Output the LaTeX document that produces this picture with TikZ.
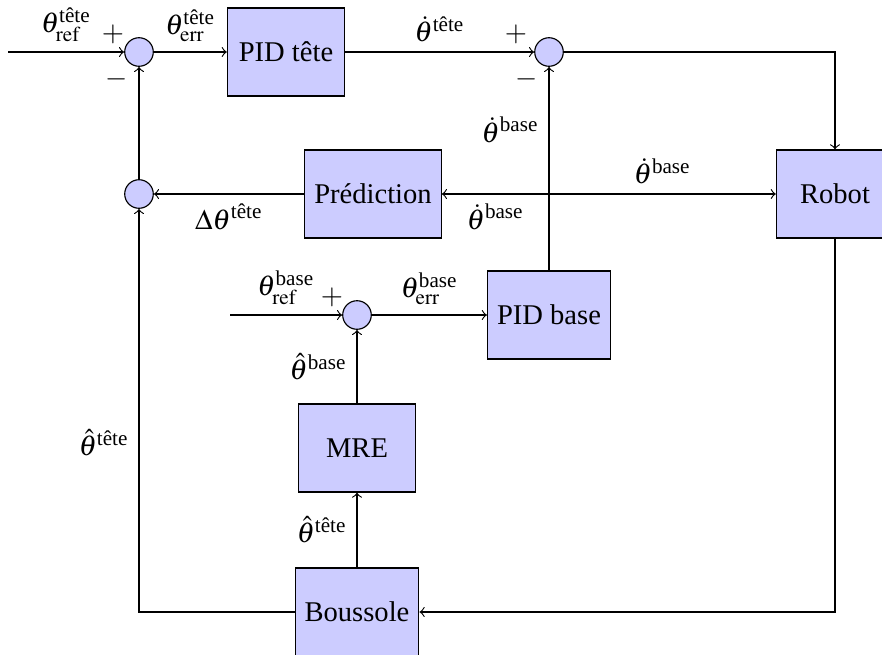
\documentclass[tikz,border=0pt]{standalone}
\usepackage{amsmath}
\usepackage{mathptmx}
\usepackage[no-math]{fontspec}
\setmainfont{Liberation Serif}
\newcommand{\tete}{\text{tête}}
\newcommand{\base}{\text{base}}
\begin{document}
\begin{tikzpicture}[x=0.35pt,y=-0.35pt,
    bloc/.style={draw, fill=blue!20, minimum width=41pt, minimum height=30.8pt},
    somme/.style={draw, circle, fill=blue!20, minimum size=10pt, inner sep=0pt}]
    \useasboundingbox (0,0) rectangle (882,654);
    % blocs
    \node [bloc] (pidtete) at (286,52) {PID tête};
    \node [bloc] (pred) at (373,194) {Prédiction};
    \node [bloc] (robot) at (835,194) {Robot};
    \node [bloc] (pidbase) at (549,315) {PID base};
    \node [bloc] (mre) at (357,448) {MRE};
    \node [bloc] (bous) at (357,612) {Boussole};
    % sommateurs
    \node [somme] (s1) at (139,52) {};
    \node [somme] (s2) at (549,52) {};
    \node [somme] (s3) at (139,194) {};
    \node [somme] (s4) at (357,315) {};
    \node (p1) at ([shift={(-26,-18)}]s1) {$+$};
    \node (m1) at ([shift={(-22,27)}]s1) {$-$};
    \node (p2) at ([shift={(-33,-18)}]s2) {$+$};
    \node (m2) at ([shift={(-22,27)}]s2) {$-$};
    \node (p4) at ([shift={(-25,-18)}]s4) {$+$};
    \coordinate (in1) at (8,52);
    \coordinate (in2) at (230,315);
    \coordinate (br) at (549,194);
    % liaisons
    \draw [->] (in1) -- node [anchor=south] {$\theta_{\mathrm{ref}}^{\tete}$} (s1);
    \draw [->] (s1) -- node [anchor=south] {$\theta_{\mathrm{err}}^{\tete}$} (pidtete);
    \draw [->] (pidtete) -- node [anchor=south] {$\dot{\theta}^{\tete}$} (s2);
    \draw [->] (s2) -| (robot);
    \draw [->] (pidbase) -- node [pos=0.69, anchor=east] {$\dot{\theta}^{\base}$} (s2);
    \draw [->] (br) -- node [anchor=south] {$\dot{\theta}^{\base}$} (robot);
    \draw [->] (br) -- node [anchor=north] {$\dot{\theta}^{\base}$} (pred);
    \draw [->] (pred) -- node [anchor=north] {$\Delta\theta^{\tete}$} (s3);
    \draw [->] (s3) -- (s1);
    \draw [->] (in2) -- node [anchor=south] {$\theta_{\mathrm{ref}}^{\base}$} (s4);
    \draw [->] (s4) -- node [anchor=south] {$\theta_{\mathrm{err}}^{\base}$} (pidbase);
    \draw [->] (mre) -- node [anchor=east] {$\hat{\theta}^{\base}$} (s4);
    \draw [->] (bous) -- node [anchor=east] {$\hat{\theta}^{\tete}$} (mre);
    \draw [->] (robot) |- (bous);
    \draw [->] (bous) -| node [pos=0.71, anchor=east] {$\hat{\theta}^{\tete}$} (s3);
\end{tikzpicture}
\end{document}
